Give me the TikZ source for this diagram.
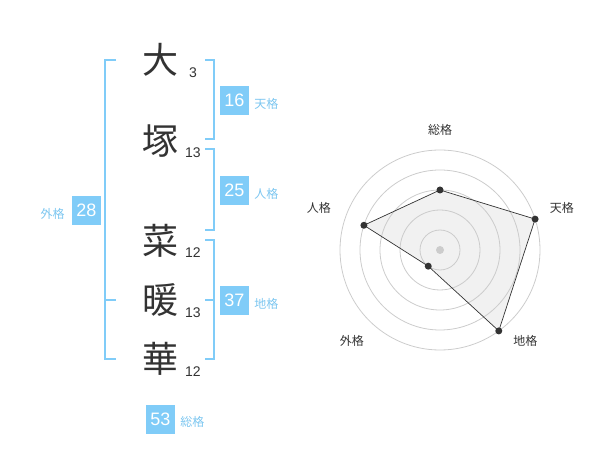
\documentclass[tikz,border=0pt]{standalone}
\usepackage{fontspec}
\setmainfont{Liberation Sans}
\newfontfamily\jpfont{Noto Sans CJK JP}
\usetikzlibrary{positioning}
\definecolor{kakublue}{HTML}{80CCF8}
\definecolor{kakutext}{HTML}{7CC6F0}
\definecolor{inkgray}{HTML}{333333}
\definecolor{ringgray}{HTML}{CCCCCC}
\definecolor{polyfill}{HTML}{F1F1F1}
\tikzset{
  kanji/.style={font=\jpfont\fontsize{36}{36}\selectfont,text=inkgray,inner sep=0pt},
  strokes/.style={font=\fontsize{14}{14}\selectfont,text=inkgray,inner sep=0pt},
  numbox/.style={fill=kakublue,text=white,font=\fontsize{18}{18}\selectfont,minimum size=29pt,inner sep=0pt},
  kakulabel/.style={font=\jpfont\fontsize{12}{12}\selectfont,text=kakutext,inner sep=0pt},
  bracket/.style={draw=kakublue,line width=2pt},
  axislabel/.style={font=\jpfont\fontsize{12}{12}\selectfont,text=inkgray,inner sep=0pt}
}
\begin{document}
\begin{tikzpicture}[x=1pt,y=-1pt,line join=miter]
	\useasboundingbox (0,0) rectangle (600,470);
	% name and stroke counts
	\node[kanji] (c1) at (160,60) {大};
	\node[kanji] (c2) at (160,141) {塚};
	\node[kanji] (c3) at (160,241) {菜};
	\node[kanji] (c4) at (160,300) {暖};
	\node[kanji] (c5) at (160,359) {華};
	\node[strokes] (s1) at ([shift={(33,13)}]c1.center) {3};
	\node[strokes] (s2) at ([shift={(33,12)}]c2.center) {13};
	\node[strokes] (s3) at ([shift={(33,12)}]c3.center) {12};
	\node[strokes] (s4) at ([shift={(33,13)}]c4.center) {13};
	\node[strokes] (s5) at ([shift={(33,13)}]c5.center) {12};
	% brackets
	\draw[bracket] (205,60) -- (214,60) -- (214,139) -- (205,139);
	\draw[bracket] (205,149) -- (214,149) -- (214,230) -- (205,230);
	\draw[bracket] (205,240) -- (214,240) -- (214,359) -- (205,359);
	\draw[bracket] (205,300) -- (214,300);
	\draw[bracket] (116,60) -- (105,60) -- (105,359) -- (116,359);
	\draw[bracket] (105,300) -- (116,300);
	% totals
	\node[numbox] (ten) at (234.5,100.5) {16};
	\node[numbox] (jin) at (234.5,190.5) {25};
	\node[numbox] (chi) at (234.5,300.5) {37};
	\node[numbox] (gai) at (86.5,210.5) {28};
	\node[numbox] (sou) at (160.5,419) {53};
	\node[kakulabel,right=5pt of ten,yshift=-3pt] {天格};
	\node[kakulabel,right=5pt of jin,yshift=-3pt] {人格};
	\node[kakulabel,right=5pt of chi,yshift=-3pt] {地格};
	\node[kakulabel,left=7pt of gai,yshift=-3pt] {外格};
	\node[kakulabel,right=5pt of sou,yshift=-3pt] {総格};
	% radar chart
	\begin{scope}[shift={(440,250)}]
		\coordinate (o) at (0,0);
		\coordinate (psou) at (90:60pt);
		\coordinate (pten) at (18:100pt);
		\coordinate (pchi) at (-54:100pt);
		\coordinate (pgai) at (-126:20pt);
		\coordinate (pjin) at (162:80pt);
		\fill[polyfill] (psou) -- (pten) -- (pchi) -- (pgai) -- (pjin) -- cycle;
		\foreach \r in {20,40,...,100}
			\draw[ringgray,line width=0.8pt] (o) circle (\r pt);
		\fill[ringgray] (o) circle (4pt);
		\draw[inkgray,line width=0.7pt] (psou) -- (pten) -- (pchi) -- (pgai) -- (pjin) -- cycle;
		\foreach \p in {psou,pten,pchi,pgai,pjin}
			\fill[inkgray] (\p) circle (3.5pt);
		\node[axislabel] (lsou) at (90:120pt) {総格};
		\node[axislabel] (lten) at (19:129pt) {天格};
		\node[axislabel] (ljin) at (161:128pt) {人格};
		\node[axislabel] (lgai) at (226:127pt) {外格};
		\node[axislabel] (lchi) at (-47:125pt) {地格};
	\end{scope}
\end{tikzpicture}
\end{document}
